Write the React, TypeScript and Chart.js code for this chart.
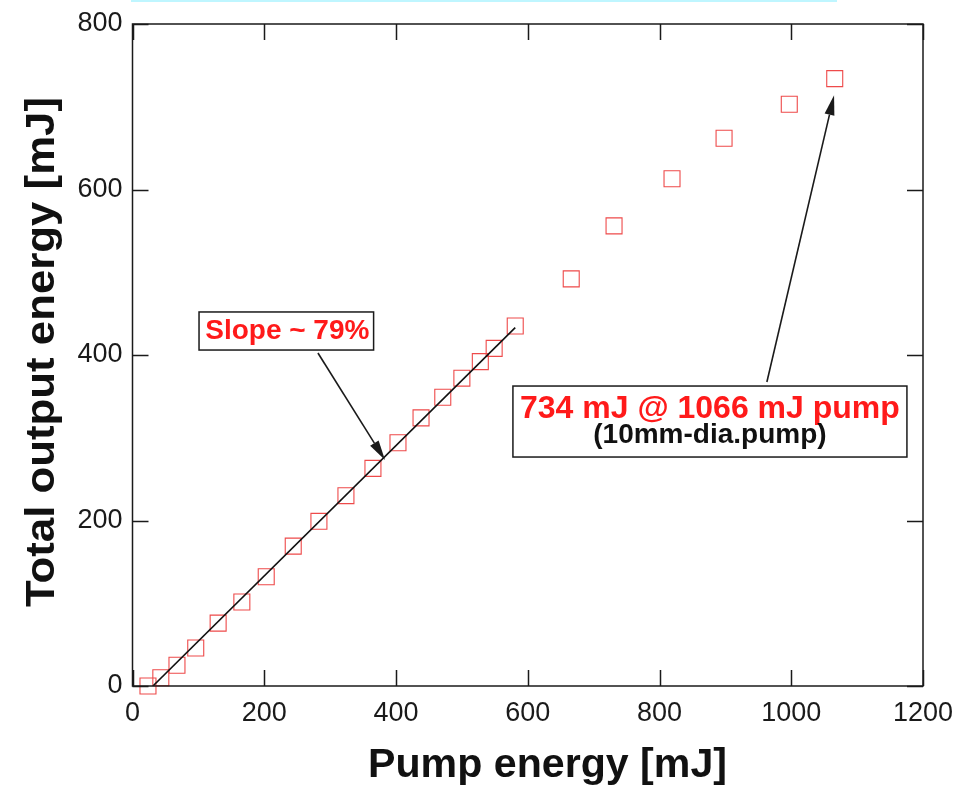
import React, { useEffect, useRef } from "react";
import { Chart, registerables } from "chart.js";

Chart.register(...registerables);

// ---- data ----
const pumpEnergy = [23.5, 43, 67.5, 96, 130, 166, 203, 244, 283, 324, 365, 403, 438, 471, 500, 528, 549, 581, 666, 731, 819, 898, 997, 1066];
const outputEnergy = [0, 10, 25, 46, 76, 101.5, 132, 169, 199, 230, 263, 294, 324, 349, 372, 392, 408, 435, 492, 556, 613, 662, 703, 734];
const fitPump = [31, 581];
const fitOutput = [0, 433];
const xTicks = [0, 200, 400, 600, 800, 1000, 1200];
const yTicks = [0, 200, 400, 600, 800];
const xTitle = "Pump energy [mJ]";
const yTitle = "Total output energy [mJ]";
const slopeLabel = "Slope ~ 79%";
const peakLabel = "734 mJ @ 1066 mJ pump";
const peakSubLabel = "(10mm-dia.pump)";

// annotation geometry in data units
const slopeBox = { x0: 101, x1: 366, y0: 406, y1: 452 };
const slopeArrow = { x0: 281.5, y0: 402.4, x1: 383.3, y1: 273 };
const peakBox = { x0: 577.5, x1: 1175.6, y0: 276.7, y1: 362.5 };
const peakArrow = { x0: 963, y0: 367.4, x1: 1065, y1: 714 };

const FONT = "'Liberation Sans', Arial, Helvetica, sans-serif";
const INK = "#1a1a1a";
const RED = "#ff1a1a";

function arrow(ctx: CanvasRenderingContext2D, x0: number, y0: number, x1: number, y1: number) {
  const ang = Math.atan2(y1 - y0, x1 - x0);
  const len = 20, half = 5;
  const bx = x1 - len * Math.cos(ang), by = y1 - len * Math.sin(ang);
  ctx.beginPath();
  ctx.moveTo(x0, y0);
  ctx.lineTo(bx, by);
  ctx.lineWidth = 1.6;
  ctx.strokeStyle = INK;
  ctx.stroke();
  ctx.beginPath();
  ctx.moveTo(x1, y1);
  ctx.lineTo(bx + half * Math.sin(ang), by - half * Math.cos(ang));
  ctx.lineTo(bx - half * Math.sin(ang), by + half * Math.cos(ang));
  ctx.closePath();
  ctx.fillStyle = INK;
  ctx.fill();
}

function fitText(ctx: CanvasRenderingContext2D, text: string, width: number) {
  const w = ctx.measureText(text).width;
  return width / w;
}

const decor = {
  id: "decor",
  afterDraw(chart: any) {
    const { ctx, chartArea: a, scales } = chart;
    const xs = scales.x, ys = scales.y;
    ctx.save();

    // faint cyan strip at the top edge
    ctx.fillStyle = "#bff6ff";
    ctx.fillRect(131, 0, 706, 2);

    // frame
    ctx.strokeStyle = INK;
    ctx.lineWidth = 1.5;
    ctx.strokeRect(a.left, a.top, a.right - a.left, a.bottom - a.top);

    // inward ticks
    const tl = 16;
    ctx.beginPath();
    xTicks.forEach((v) => {
      const px = Math.round(xs.getPixelForValue(v)) + 0.5;
      ctx.moveTo(px, a.bottom); ctx.lineTo(px, a.bottom - tl);
      ctx.moveTo(px, a.top); ctx.lineTo(px, a.top + tl);
    });
    yTicks.forEach((v) => {
      const py = Math.round(ys.getPixelForValue(v)) + 0.5;
      ctx.moveTo(a.left, py); ctx.lineTo(a.left + tl, py);
      ctx.moveTo(a.right, py); ctx.lineTo(a.right - tl, py);
    });
    ctx.stroke();

    // axis titles
    ctx.fillStyle = "#111";
    ctx.textAlign = "center";
    ctx.textBaseline = "alphabetic";
    ctx.font = `bold 40px ${FONT}`;
    let s = fitText(ctx, xTitle, 359);
    ctx.save();
    ctx.translate(547.5, 777);
    ctx.scale(s, 1);
    ctx.fillText(xTitle, 0, 0);
    ctx.restore();

    ctx.font = `bold 41px ${FONT}`;
    s = fitText(ctx, yTitle, 510);
    ctx.save();
    ctx.translate(54, 352);
    ctx.rotate(-Math.PI / 2);
    ctx.scale(s, 1);
    ctx.fillText(yTitle, 0, 0);
    ctx.restore();

    // slope annotation
    {
      const l = xs.getPixelForValue(slopeBox.x0), r = xs.getPixelForValue(slopeBox.x1);
      const t = ys.getPixelForValue(slopeBox.y1), b = ys.getPixelForValue(slopeBox.y0);
      ctx.fillStyle = "#fff";
      ctx.fillRect(l, t, r - l, b - t);
      ctx.lineWidth = 1.5;
      ctx.strokeStyle = INK;
      ctx.strokeRect(l, t, r - l, b - t);
      ctx.fillStyle = RED;
      ctx.font = `bold 28px ${FONT}`;
      ctx.textAlign = "center";
      ctx.fillText(slopeLabel, (l + r) / 2 + 1, t + 27);
      arrow(ctx, xs.getPixelForValue(slopeArrow.x0), ys.getPixelForValue(slopeArrow.y0),
        xs.getPixelForValue(slopeArrow.x1), ys.getPixelForValue(slopeArrow.y1));
    }

    // peak annotation
    {
      const l = xs.getPixelForValue(peakBox.x0), r = xs.getPixelForValue(peakBox.x1);
      const t = ys.getPixelForValue(peakBox.y1), b = ys.getPixelForValue(peakBox.y0);
      ctx.fillStyle = "#fff";
      ctx.fillRect(l, t, r - l, b - t);
      ctx.lineWidth = 1.5;
      ctx.strokeStyle = INK;
      ctx.strokeRect(l, t, r - l, b - t);
      ctx.textAlign = "center";
      ctx.fillStyle = RED;
      ctx.font = `bold 32px ${FONT}`;
      ctx.fillText(peakLabel, (l + r) / 2, t + 32);
      ctx.fillStyle = "#111";
      ctx.font = `bold 28px ${FONT}`;
      ctx.fillText(peakSubLabel, (l + r) / 2, t + 57);
      arrow(ctx, xs.getPixelForValue(peakArrow.x0), ys.getPixelForValue(peakArrow.y0),
        xs.getPixelForValue(peakArrow.x1), ys.getPixelForValue(peakArrow.y1));
    }

    ctx.restore();
  },
};

export default function App() {
  const ref = useRef<HTMLCanvasElement | null>(null);

  useEffect(() => {
    document.body.style.margin = "0";
    document.body.style.background = "#fff";
    const canvas = ref.current;
    if (!canvas) return;
    const chart = new Chart(canvas, {
      type: "scatter",
      data: {
        datasets: [
          {
            label: "Output",
            data: pumpEnergy.map((x, i) => ({ x, y: outputEnergy[i] })),
            showLine: false,
            pointStyle: "rect",
            pointRadius: 11.3,
            pointBorderWidth: 1.1,
            borderColor: "#ee4a4a",
            pointBorderColor: "#ee4a4a",
            backgroundColor: "rgba(0,0,0,0)",
            pointBackgroundColor: "rgba(0,0,0,0)",
            clip: false as any,
            order: 2,
          },
          {
            label: "Fit",
            type: "line" as any,
            data: fitPump.map((x, i) => ({ x, y: fitOutput[i] })),
            showLine: true,
            borderColor: "#111",
            borderWidth: 1.6,
            pointRadius: 0,
            fill: false,
            order: 1,
          },
        ],
      },
      options: {
        animation: false,
        responsive: false,
        maintainAspectRatio: false,
        devicePixelRatio: 1,
        layout: { padding: { top: 24, right: 34, left: 0, bottom: 0 } },
        plugins: {
          legend: { display: false },
          tooltip: { enabled: false },
        },
        scales: {
          x: {
            type: "linear",
            min: 0,
            max: 1200,
            afterBuildTicks: (sc: any) => {
              sc.ticks = xTicks.map((v) => ({ value: v }));
            },
            afterFit: (sc: any) => {
              sc.height = 99;
              sc.paddingLeft = 0;
              sc.paddingRight = 0;
            },
            grid: { display: false, drawTicks: false },
            border: { display: false },
            ticks: {
              padding: 11,
              color: INK,
              font: { family: FONT, size: 27 },
              maxRotation: 0,
              autoSkip: false,
              callback: (v: any) => String(v),
            },
          },
          y: {
            type: "linear",
            min: 0,
            max: 800,
            afterBuildTicks: (sc: any) => {
              sc.ticks = yTicks.map((v) => ({ value: v }));
            },
            afterFit: (sc: any) => {
              sc.width = 132.5;
              sc.paddingTop = 0;
              sc.paddingBottom = 0;
            },
            grid: { display: false, drawTicks: false },
            border: { display: false },
            ticks: {
              padding: 10,
              color: INK,
              font: { family: FONT, size: 27 },
              autoSkip: false,
              callback: (v: any) => String(v),
            },
          },
        },
      },
      plugins: [decor],
    });
    return () => chart.destroy();
  }, []);

  return (
    <div style={{ width: 957, height: 785, position: "relative", background: "#fff" }}>
      <canvas ref={ref} width={957} height={785} style={{ display: "block", width: 957, height: 785 }} />
    </div>
  );
}
